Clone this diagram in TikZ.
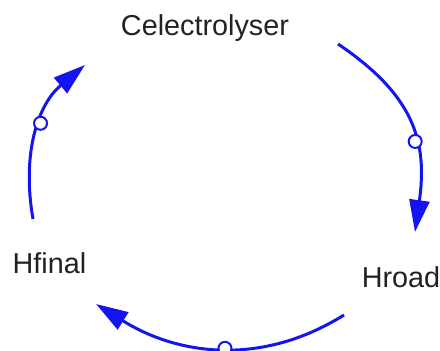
\documentclass[tikz,border=0pt]{standalone}
\usepackage{fontspec}
\setmainfont{Liberation Sans}
\usetikzlibrary{arrows.meta}
\definecolor{linkblue}{RGB}{20,20,240}
\definecolor{vartext}{RGB}{34,34,34}
\tikzset{
  var/.style={font=\fontsize{14.4}{16}\selectfont, text=vartext, inner sep=0pt, anchor=base},
  link/.style={draw=linkblue, line width=1.5pt, -{Triangle[length=16pt,width=10pt]}},
  handle/.style={circle, draw=linkblue, fill=white, line width=1pt,
                 minimum size=6.5pt, inner sep=0pt},
}

\begin{document}
\begin{tikzpicture}[x=0.5pt,y=0.5pt]
  \useasboundingbox (0,0) rectangle (440,350);
  % variables
  \node[var] (cel) at (205,315) {Celectrolyser};
  \node[var] (hroad) at (401,63) {Hroad};
  \node[var] (hfinal) at (49.5,77) {Hfinal};
  % free ends of the links
  \coordinate (cel-out) at (338,306);
  \coordinate (hroad-in) at (415,118);
  \coordinate (hroad-out) at (344,35);
  \coordinate (hfinal-in) at (96,46);
  \coordinate (hfinal-out) at (33,131);
  \coordinate (cel-in) at (85,285);
  % links
  \draw[link] (cel-out) to[out=-34, in=82, looseness=1.15] node[handle, pos=0.6] {} (hroad-in);
  \draw[link] (hroad-out) to[out=212, in=-32] node[handle, pos=0.48] {} (hfinal-in);
  \draw[link] (hfinal-out) to[out=100, in=-140] node[handle, pos=0.57] {} (cel-in);
\end{tikzpicture}
\end{document}
